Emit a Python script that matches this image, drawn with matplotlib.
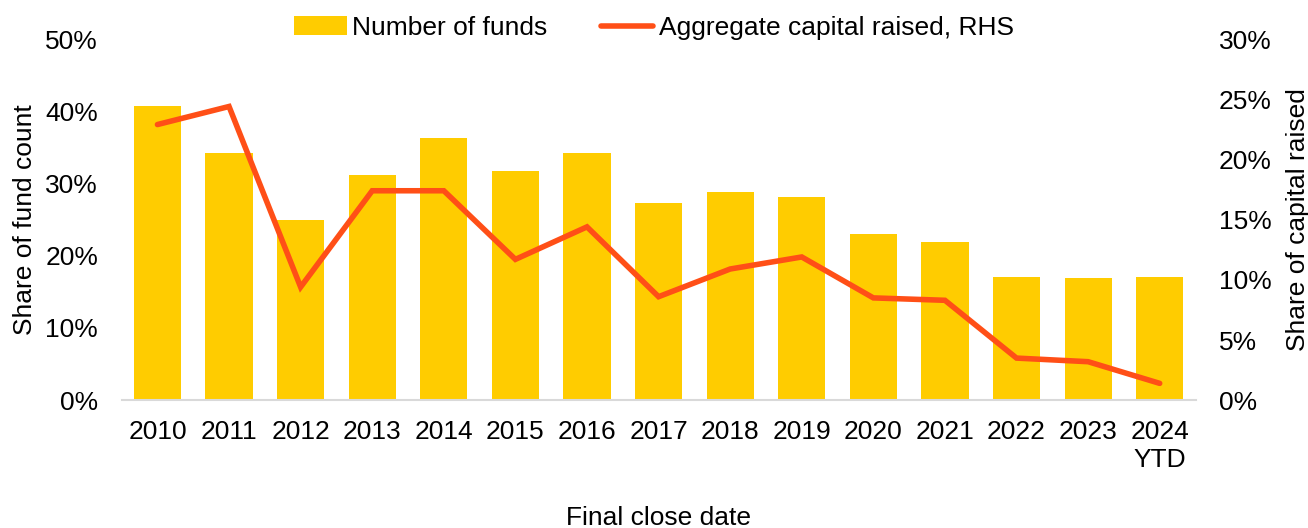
import numpy as np
import matplotlib
matplotlib.use('Agg')
import matplotlib.pyplot as plt
from matplotlib.ticker import FuncFormatter

plt.rcParams['font.family'] = ['Liberation Sans', 'DejaVu Sans']

years = ['2010', '2011', '2012', '2013', '2014', '2015', '2016', '2017',
         '2018', '2019', '2020', '2021', '2022', '2023', '2024\nYTD']
fund_share = [40.7, 34.2, 24.9, 31.2, 36.3, 31.7, 34.2, 27.3,
              28.8, 28.1, 23.0, 21.9, 17.0, 16.9, 17.0]
capital_share = [22.9, 24.4, 9.4, 17.4, 17.4, 11.7, 14.4, 8.6,
                 10.9, 11.9, 8.5, 8.3, 3.5, 3.2, 1.4]

bar_color = '#FFCC00'
line_color = '#FF4F17'
fs = 19

fig = plt.figure(figsize=(13.08, 5.28), dpi=100)
ax = fig.add_axes([0.093, 0.242, 0.821, 0.684])
x = np.arange(len(years))

bars = ax.bar(x, fund_share, width=0.66, color=bar_color, label='Number of funds', zorder=2)
ax.set_xlim(-0.5, len(years) - 0.5)
ax.set_ylim(0, 50)
ax.set_yticks(np.arange(0, 51, 10))
ax.yaxis.set_major_formatter(FuncFormatter(lambda v, p: f'{v:.0f}%'))
ax.set_xticks(x)
ax.set_xticklabels(years, linespacing=1.25)

ax2 = ax.twinx()
line, = ax2.plot(x, capital_share, color=line_color, lw=4, solid_capstyle='round',
                 solid_joinstyle='miter', label='Aggregate capital raised, RHS', zorder=3)
ax2.set_ylim(0, 30)
ax2.set_yticks(np.arange(0, 31, 5))
ax2.yaxis.set_major_formatter(FuncFormatter(lambda v, p: f'{v:.0f}%'))

for a in (ax, ax2):
    for s in a.spines.values():
        s.set_visible(False)
    a.tick_params(length=0, labelsize=fs)
ax.spines['bottom'].set_visible(True)
ax.spines['bottom'].set_color('#D9D9D9')
ax.spines['bottom'].set_linewidth(1.5)
ax.tick_params(axis='y', pad=17)
ax.tick_params(axis='x', pad=14)
ax2.tick_params(axis='y', pad=17)

ax.set_ylabel('Share of fund count', fontsize=fs, labelpad=6)
ax2.set_ylabel('Share of capital raised', fontsize=fs, labelpad=10)
ax.set_xlabel('Final close date', fontsize=fs, labelpad=24)

fig.legend(handles=[bars, line], loc='upper center', bbox_to_anchor=(0.5, 1.0),
           ncol=2, frameon=False, fontsize=fs, handlelength=2.0,
           handletextpad=0.2, columnspacing=2.0, borderaxespad=0.2)

fig.savefig('out.png', dpi=100)
